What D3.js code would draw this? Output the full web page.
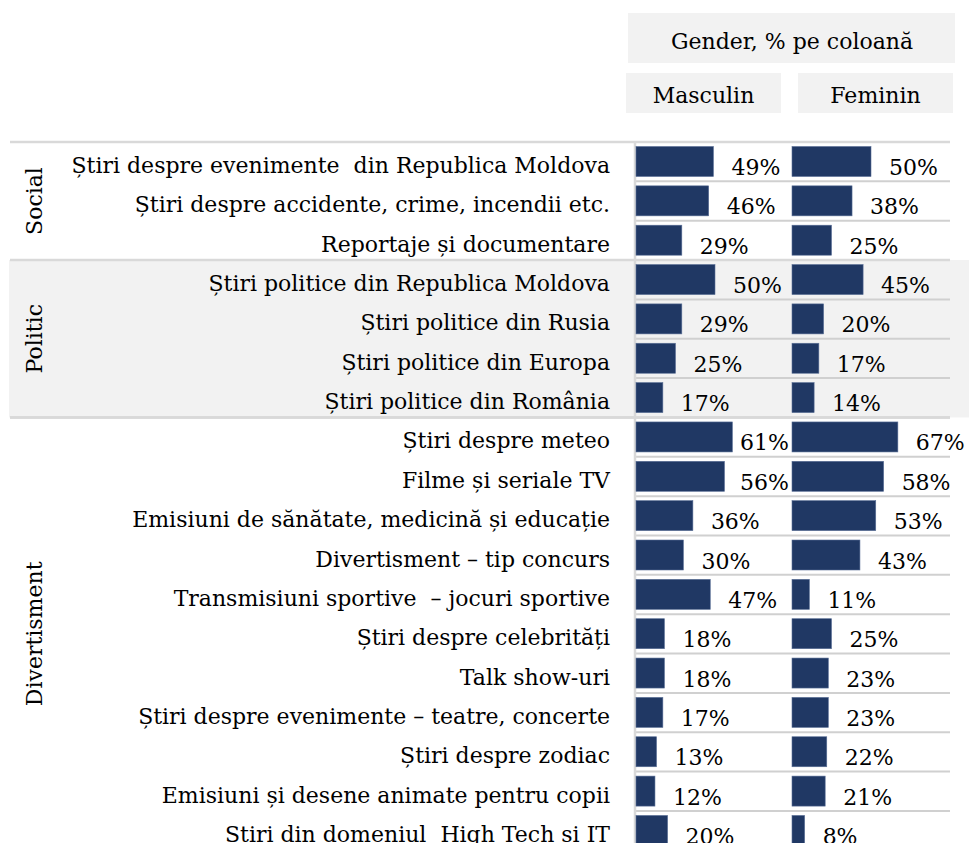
<!DOCTYPE html>
<html>
<head>
<meta charset="utf-8">
<script src="https://cdn.jsdelivr.net/npm/d3@7"></script>
<style>
  html, body { margin: 0; padding: 0; background: #fff; overflow: hidden; }
  svg { display: block; }
  text { font-family: "DejaVu Serif", serif; fill: #000; white-space: pre; }
</style>
</head>
<body>
<svg id="chart" width="969" height="843"></svg>
<script>
// ---------- data ----------
const headerTitle = "Gender, % pe coloană";
const seriesNames = ["Masculin", "Feminin"];
const groups = ["Social", "Politic", "Divertisment"];
const categories = [
  "Știri despre evenimente  din Republica Moldova",
  "Știri despre accidente, crime, incendii etc.",
  "Reportaje și documentare",
  "Știri politice din Republica Moldova",
  "Știri politice din Rusia",
  "Știri politice din Europa",
  "Știri politice din România",
  "Știri despre meteo",
  "Filme și seriale TV",
  "Emisiuni de sănătate, medicină și educație",
  "Divertisment – tip concurs",
  "Transmisiuni sportive  – jocuri sportive",
  "Știri despre celebrități",
  "Talk show-uri",
  "Știri despre evenimente – teatre, concerte",
  "Știri despre zodiac",
  "Emisiuni și desene animate pentru copii",
  "Știri din domeniul  High Tech și IT"
];
const categoryGroup = [
  "Social", "Social", "Social",
  "Politic", "Politic", "Politic", "Politic",
  "Divertisment", "Divertisment", "Divertisment", "Divertisment", "Divertisment",
  "Divertisment", "Divertisment", "Divertisment", "Divertisment", "Divertisment", "Divertisment"
];
const masculin = [49, 46, 29, 50, 29, 25, 17, 61, 56, 36, 30, 47, 18, 18, 17, 13, 12, 20];
const feminin  = [50, 38, 25, 45, 20, 17, 14, 67, 58, 53, 43, 11, 25, 23, 23, 22, 21, 8];
const seriesValues = [masculin, feminin];

// ---------- layout ----------
const svg = d3.select("#chart");
const top0 = 142, rowH = 39.35;
const y = d3.scaleBand().domain(categories).range([top0, top0 + categories.length * rowH]);
const barTop = 4.5, barH = 30;
const colStart = [636, 792];
const colLabelMax = [789, 968];
const x = d3.scaleLinear().domain([0, 100]).range([0, 158]);
const navy = "#203864", lineGrey = "#d9d9d9", bgGrey = "#f2f2f2";
const fs = 22;

// header
svg.append("rect").attr("x", 628).attr("y", 13).attr("width", 327).attr("height", 50).attr("fill", bgGrey);
svg.append("text").attr("x", 792).attr("y", 49).attr("text-anchor", "middle").attr("font-size", fs).text(headerTitle);
const hdr = [{x: 626, w: 155}, {x: 798, w: 155}];
seriesNames.forEach((s, i) => {
  svg.append("rect").attr("x", hdr[i].x).attr("y", 73).attr("width", hdr[i].w).attr("height", 40).attr("fill", bgGrey);
  svg.append("text").attr("x", hdr[i].x + hdr[i].w / 2).attr("y", 103).attr("text-anchor", "middle").attr("font-size", fs).text(s);
});

// group spans
const spans = groups.map(g => {
  const cs = categories.filter((c, i) => categoryGroup[i] === g);
  return {g, y0: y(cs[0]), y1: y(cs[cs.length - 1]) + y.bandwidth()};
});

// Politic background
spans.filter(s => s.g === "Politic").forEach(s => {
  svg.append("rect").attr("x", 9).attr("y", s.y0).attr("width", 960).attr("height", s.y1 - s.y0).attr("fill", bgGrey);
});

// row lines (bar area only)
categories.forEach((c, i) => {
  if (i > 0 && categoryGroup[i] === categoryGroup[i - 1]) {
    svg.append("line").attr("x1", 636).attr("x2", 950).attr("y1", y(c)).attr("y2", y(c))
      .attr("stroke", "#d0d0d0").attr("stroke-width", 2);
  }
});
// group lines
const gLines = spans.map(s => s.y0).concat([spans[1].y1]);
gLines.forEach(v => {
  svg.append("line").attr("x1", 10).attr("x2", 950).attr("y1", v).attr("y2", v)
    .attr("stroke", lineGrey).attr("stroke-width", 2.5);
});
// vertical separator
svg.append("line").attr("x1", 635).attr("x2", 635).attr("y1", top0).attr("y2", 843)
  .attr("stroke", lineGrey).attr("stroke-width", 2.5);

// group labels
spans.forEach(s => {
  svg.append("text").attr("transform", `translate(42,${(s.y0 + s.y1) / 2}) rotate(-90)`)
    .attr("text-anchor", "middle").attr("font-size", fs).text(s.g);
});

// category labels
svg.append("g").selectAll("text").data(categories).join("text")
  .attr("x", 610).attr("y", d => y(d) + 31)
  .attr("text-anchor", "end").attr("font-size", fs).text(d => d);

// bars + value labels
seriesValues.forEach((vals, si) => {
  const g = svg.append("g");
  g.selectAll("rect").data(categories).join("rect")
    .attr("x", colStart[si]).attr("y", d => y(d) + barTop)
    .attr("width", (d, i) => x(vals[i])).attr("height", barH)
    .attr("fill", navy).attr("stroke", "#5a6f96").attr("stroke-width", 0.6);
  g.selectAll("text").data(categories).join("text")
    .attr("y", d => y(d) + 33).attr("font-size", fs)
    .text((d, i) => vals[i] + "%")
    .attr("x", function(d, i) {
      const w = this.getComputedTextLength();
      return Math.min(colStart[si] + x(vals[i]) + 18, colLabelMax[si] - w);
    });
});
</script>
</body>
</html>
